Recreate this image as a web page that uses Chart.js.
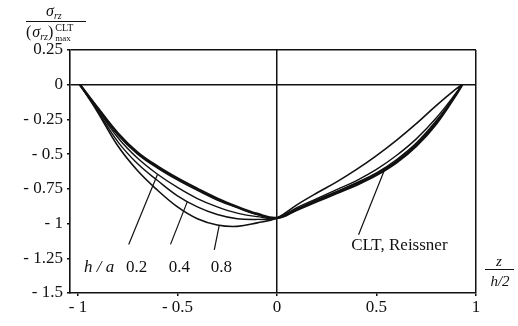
<!DOCTYPE html>
<html>
<head>
<meta charset="utf-8">
<script src="https://cdn.jsdelivr.net/npm/chart.js@4.4.0/dist/chart.umd.min.js"></script>
<style>
  html, body { margin: 0; padding: 0; background: #fff; }
  #wrap { position: relative; width: 518px; height: 326px; }
</style>
</head>
<body>
<div id="wrap"><canvas id="chart" width="518" height="326"></canvas></div>
<script>
// z / (h/2) positions shared by every curve
const zValues   = [-0.99, -0.9, -0.8, -0.7, -0.6, -0.5, -0.4, -0.3, -0.2, -0.1, 0, 0.1, 0.2, 0.3, 0.4, 0.5, 0.6, 0.7, 0.8, 0.9, 0.93];
const cltValues = [0, -0.17, -0.35, -0.49, -0.59, -0.675, -0.75, -0.82, -0.88, -0.93, -0.96, -0.90, -0.84, -0.78, -0.72, -0.65, -0.56, -0.44, -0.28, -0.07, 0];
const reissnerValues = [0, -0.17, -0.36, -0.50, -0.60, -0.685, -0.76, -0.83, -0.885, -0.935, -0.96, -0.90, -0.83, -0.77, -0.71, -0.64, -0.55, -0.43, -0.27, -0.07, 0];
const ha02Values = [0, -0.18, -0.38, -0.53, -0.645, -0.74, -0.82, -0.88, -0.925, -0.95, -0.96, -0.895, -0.83, -0.77, -0.705, -0.635, -0.54, -0.42, -0.26, -0.07, 0];
const ha04Values = [0, -0.19, -0.41, -0.57, -0.69, -0.80, -0.88, -0.935, -0.965, -0.97, -0.96, -0.885, -0.82, -0.755, -0.69, -0.61, -0.51, -0.39, -0.24, -0.06, 0];
const ha08Values = [0, -0.20, -0.44, -0.62, -0.76, -0.88, -0.965, -1.01, -1.02, -0.995, -0.96, -0.865, -0.78, -0.70, -0.61, -0.51, -0.40, -0.28, -0.15, -0.03, 0];

const xTicks = [-1, -0.5, 0, 0.5, 1];
const xTickLabels = ['- 1', '- 0.5', '0', '0.5', '1'];
const yTicks = [0.25, 0, -0.25, -0.5, -0.75, -1, -1.25, -1.5];
const yTickLabels = ['0.25', '0', '- 0.25', '- 0.5', '- 0.75', '- 1', '- 1.25', '- 1.5'];

const serif = '"Liberation Serif", "DejaVu Serif", serif';
const ink = '#111';

function toPoints(ys) {
  return zValues.map((z, i) => ({ x: z, y: ys[i] }));
}

function valueAt(ys, z) {
  for (let i = 1; i < zValues.length; i++) {
    if (z <= zValues[i]) {
      const t = (z - zValues[i - 1]) / (zValues[i] - zValues[i - 1]);
      return ys[i - 1] + t * (ys[i] - ys[i - 1]);
    }
  }
  return ys[ys.length - 1];
}

// leader lines from the labels to the curves (data coords)
const pointers = [
  { series: ha02Values, tipZ: -0.60, baseZ: -0.745, baseY: -1.15 },
  { series: ha04Values, tipZ: -0.45, baseZ: -0.535, baseY: -1.15 },
  { series: ha08Values, tipZ: -0.29, baseZ: -0.315, baseY: -1.19 },
  { series: cltValues,  tipZ: 0.54,  baseZ: 0.41,   baseY: -1.08 }
];

const notes = [
  { text: 'h / a', z: -0.97, y: -1.35, italic: true, align: 'left' },
  { text: '0.2', z: -0.705, y: -1.35 },
  { text: '0.4', z: -0.49, y: -1.35 },
  { text: '0.8', z: -0.28, y: -1.35 },
  { text: 'CLT, Reissner', z: 0.615, y: -1.19 }
];

const lineStyle = { showLine: true, pointRadius: 0, borderColor: ink, backgroundColor: ink, tension: 0.4, fill: false };

// draws a run of text pieces left to right: [text, font, dy, gap]
function drawRun(ctx, x, baseline, pieces) {
  pieces.forEach(p => {
    ctx.font = p[1];
    ctx.fillText(p[0], x, baseline + (p[2] || 0));
    x += ctx.measureText(p[0]).width + (p[3] || 0);
  });
  return x;
}

const extras = {
  id: 'extras',
  afterDatasetsDraw(chart) {
    const ctx = chart.ctx;
    const xs = chart.scales.x, ys = chart.scales.y;
    ctx.save();
    ctx.strokeStyle = ink;
    ctx.fillStyle = ink;
    ctx.lineWidth = 1.2;
    pointers.forEach(p => {
      ctx.beginPath();
      ctx.moveTo(xs.getPixelForValue(p.baseZ), ys.getPixelForValue(p.baseY));
      ctx.lineTo(xs.getPixelForValue(p.tipZ), ys.getPixelForValue(valueAt(p.series, p.tipZ)));
      ctx.stroke();
    });
    ctx.textBaseline = 'alphabetic';
    notes.forEach(n => {
      ctx.font = (n.italic ? 'italic ' : '') + '17px ' + serif;
      ctx.textAlign = n.align || 'center';
      ctx.fillText(n.text, xs.getPixelForValue(n.z), ys.getPixelForValue(n.y));
    });

    // y title: sigma_rz / (sigma_rz)^CLT_max
    ctx.textAlign = 'left';
    const sig = 'italic 16px ' + serif, sub = 'italic 10px ' + serif;
    drawRun(ctx, 46, 16, [['σ', sig], ['rz', sub, 3]]);
    ctx.lineWidth = 1;
    ctx.beginPath(); ctx.moveTo(26, 21.5); ctx.lineTo(86, 21.5); ctx.stroke();
    const xr = drawRun(ctx, 26, 37, [['(', '16px ' + serif, 0, 1], ['σ', sig], ['rz', sub, 3], [')', '16px ' + serif, 0, 2]]);
    drawRun(ctx, xr, 31, [['CLT', '10px ' + serif]]);
    drawRun(ctx, xr, 41, [['max', '9px ' + serif]]);

    // x title: z / (h/2)
    ctx.textAlign = 'center';
    ctx.font = 'italic 15px ' + serif;
    ctx.fillText('z', 499, 266);
    ctx.beginPath(); ctx.moveTo(485, 269.5); ctx.lineTo(514, 269.5); ctx.stroke();
    ctx.fillText('h/2', 500, 286);
    ctx.restore();
  }
};

new Chart(document.getElementById('chart'), {
  type: 'scatter',
  data: {
    datasets: [
      { label: 'CLT', data: toPoints(cltValues), borderWidth: 2.6, ...lineStyle },
      { label: 'Reissner', data: toPoints(reissnerValues), borderWidth: 1.6, ...lineStyle },
      { label: 'h/a 0.2', data: toPoints(ha02Values), borderWidth: 1.4, ...lineStyle },
      { label: 'h/a 0.4', data: toPoints(ha04Values), borderWidth: 1.4, ...lineStyle },
      { label: 'h/a 0.8', data: toPoints(ha08Values), borderWidth: 1.6, ...lineStyle }
    ]
  },
  options: {
    responsive: false,
    animation: false,
    layout: { padding: { left: 0, right: 42, top: 50, bottom: 0 } },
    plugins: { legend: { display: false }, tooltip: { enabled: false } },
    scales: {
      x: {
        type: 'linear',
        min: -1.04,
        max: 1,
        afterBuildTicks: s => { s.ticks = xTicks.map(v => ({ value: v })); },
        afterFit: s => { s.height = 33; },
        border: { color: ink, width: 1.6 },
        grid: {
          color: c => (c.tick && (c.tick.value === 0 || c.tick.value === 1)) ? ink : 'rgba(0,0,0,0)',
          lineWidth: 1.5,
          tickColor: ink,
          tickLength: 3
        },
        ticks: {
          color: ink,
          padding: 1,
          maxRotation: 0,
          font: { family: serif, size: 17 },
          callback: v => xTickLabels[xTicks.indexOf(v)]
        }
      },
      y: {
        type: 'linear',
        min: -1.5,
        max: 0.25,
        afterBuildTicks: s => { s.ticks = yTicks.map(v => ({ value: v })); },
        afterFit: s => { s.width = 70; },
        border: { color: ink, width: 1.6 },
        grid: {
          color: c => (c.tick && (c.tick.value === 0 || c.tick.value === 0.25)) ? ink : 'rgba(0,0,0,0)',
          lineWidth: 1.5,
          tickColor: ink,
          tickLength: 3
        },
        ticks: {
          color: ink,
          padding: 4,
          font: { family: serif, size: 17 },
          callback: v => yTickLabels[yTicks.indexOf(v)]
        }
      }
    }
  },
  plugins: [extras]
});
</script>
</body>
</html>
